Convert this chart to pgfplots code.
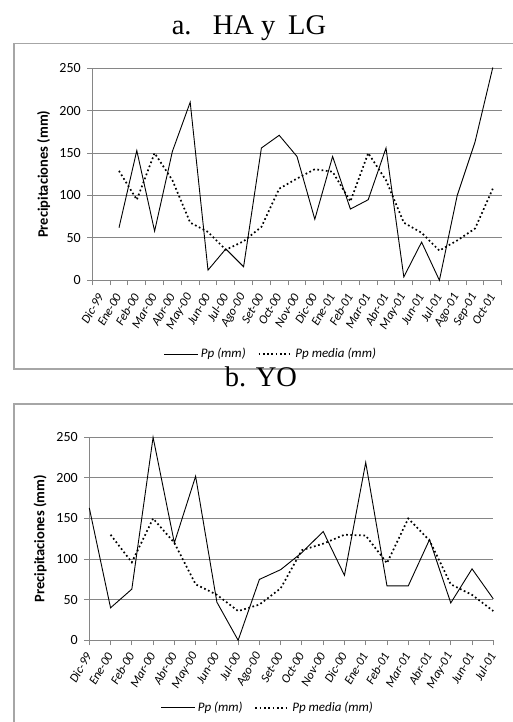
\documentclass[border=0pt]{standalone}
\usepackage{pgfplots}
\pgfplotsset{compat=1.18}
\usepackage{fontspec}
\setmainfont{Liberation Serif}
\newfontfamily\calfont{Carlito}
\definecolor{gridcol}{HTML}{868686}
\definecolor{framecol}{HTML}{A6A6A6}

\pgfplotsset{
  excel/.style={
    scale only axis,
    axis lines=left,
    axis line style={-, draw=gridcol, line width=0.9pt},
    enlargelimits=false,
    clip=false,
    ymin=0, ymax=250,
    ytick={0,50,...,250},
    ymajorgrids,
    grid style={gridcol, line width=0.9pt},
    tick align=outside,
    major tick length=5pt,
    tick style={draw=gridcol, line width=0.9pt},
    /pgf/number format/assume math mode=true,
    yticklabel style={font=\fontsize{14}{14}\selectfont\calfont, xshift=-3pt},
    xticklabel style={font=\fontsize{12.5}{12.5}\selectfont\calfont\itshape, rotate=60, anchor=east, inner sep=1.5pt},
    every axis y label/.style={rotate=90, anchor=center, font=\fontsize{14.5}{14.5}\selectfont\calfont\bfseries},
    ylabel={Precipitaciones (mm)},
    legend columns=2,
    legend cell align=left,
    legend style={draw=none, fill=none, anchor=center,
      font=\fontsize{13}{13}\selectfont\calfont\itshape,
      /tikz/every even column/.append style={column sep=10pt},
      /tikz/every odd column/.append style={column sep=0pt}},
    legend image code/.code={\draw[#1] (0pt,0pt) -- (34pt,0pt);},
  },
  ppstyle/.style={black, line width=0.9pt, mark=none},
  pmstyle/.style={black, line width=1.7pt, dash pattern=on 1.7pt off 2.6pt, mark=none},
}

\pgfplotstableread{
x y
1 62
2 153
3 58
4 152
5 210
6 12
7 37
8 16
9 156
10 171
11 146
12 72
13 146
14 84
15 95
16 156
17 4
18 45
19 0
20 100
21 163
22 251
}\ppa

\pgfplotstableread{
x y
1 129
2 95
3 150
4 118
5 68
6 57
7 36
8 46
9 63
10 108
11 120
12 131
13 128
14 93
15 150
16 118
17 68
18 56
19 35
20 47
21 61
22 108
}\pma

\pgfplotstableread{
x y
0 163
1 40
2 63
3 250
4 120
5 202
6 47
7 0
8 75
9 87
10 108
11 134
12 80
13 219
14 67
15 67
16 124
17 46
18 88
19 51
}\ppb

\pgfplotstableread{
x y
1 130
2 96
3 150
4 120
5 69
6 56
7 36
8 44
9 64
10 111
11 119
12 130
13 129
14 95
15 150
16 123
17 69
18 56
19 36
}\pmb

\begin{document}
\begin{tikzpicture}
\path[use as bounding box] (0pt,0pt) rectangle (512pt,722pt);

% frames
\draw[framecol, line width=1.3pt] (514pt,678.7pt) -- (14pt,678.7pt) -- (14pt,353pt) -- (514pt,353pt);
\draw[framecol, line width=1.3pt] (514pt,318pt) -- (14pt,318pt) -- (14pt,-2pt);

% titles
\node[font=\fontsize{28.5}{28.5}\selectfont] at (249pt,694pt) {a.\hspace{0.75em}HA y\hspace{0.45em}LG};
\node[font=\fontsize{28.5}{28.5}\selectfont] at (261pt,345pt) {b. YO};

% panel a
\begin{axis}[excel,
  at={(92.3pt,441.7pt)}, anchor=south west,
  width=409.4pt, height=212pt,
  xmin=-0.5, xmax=22.5,
  xtick={-0.5,0.5,...,22.5},
  xticklabels={},
  xticklabel shift=13pt,
  extra x ticks={0,1,...,22},
  extra x tick labels={Dic-99,Ene-00,Feb-00,Mar-00,Abr-00,May-00,Jun-00,Jul-00,Ago-00,Set-00,Oct-00,Nov-00,Dic-00,Ene-01,Feb-01,Mar-01,Abr-01,May-01,Jun-01,Jul-01,Ago-01,Sep-01,Oct-01},
  extra x tick style={major tick length=0pt},
  ylabel style={at={(axis description cs:-0.1187,0.5)}},
  legend style={at={(axis description cs:0.4365,-0.3476)}},
]
\addplot[ppstyle] table[x=x,y=y] {\ppa};
\addlegendentry{Pp (mm)}
\addplot[pmstyle] table[x=x,y=y] {\pma};
\addlegendentry{Pp media (mm)}
\end{axis}

% panel b
\begin{axis}[excel,
  at={(89.3pt,81.7pt)}, anchor=south west,
  width=404pt, height=203pt,
  xmin=0, xmax=19,
  xtick={0,1,...,19},
  xticklabels={Dic-99,Ene-00,Feb-00,Mar-00,Abr-00,May-00,Jun-00,Jul-00,Ago-00,Set-00,Oct-00,Nov-00,Dic-00,Ene-01,Feb-01,Mar-01,Abr-01,May-01,Jun-01,Jul-01},
  xticklabel shift=7pt,
  ylabel style={at={(axis description cs:-0.122,0.5)}},
  legend style={at={(axis description cs:0.442,-0.333)}},
]
\addplot[ppstyle] table[x=x,y=y] {\ppb};
\addlegendentry{Pp (mm)}
\addplot[pmstyle] table[x=x,y=y] {\pmb};
\addlegendentry{Pp media (mm)}
\end{axis}
\end{tikzpicture}
\end{document}
